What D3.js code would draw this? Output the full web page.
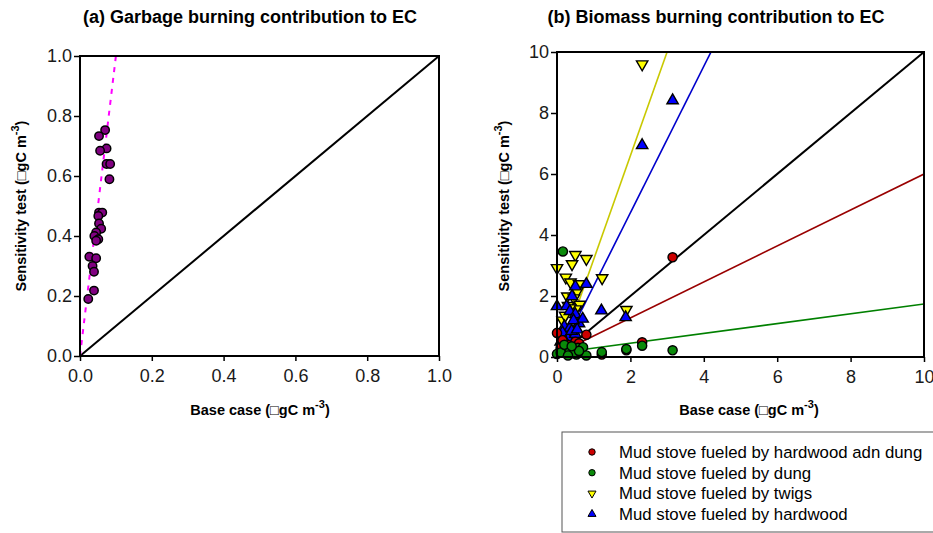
<!DOCTYPE html>
<html>
<head>
<meta charset="utf-8">
<script src="https://cdn.jsdelivr.net/npm/d3@7"></script>
<style>
  html, body { margin: 0; padding: 0; background: #fff; }
  svg { display: block; font-family: "Liberation Sans", Arial, sans-serif; }
</style>
</head>
<body>
<svg id="chart" width="933" height="533"></svg>
<script>
// ---- Panel (a): garbage burning EC, [base case, sensitivity test] ----
const garbagePoints = [
  [0.070, 0.753], [0.053, 0.733], [0.074, 0.692], [0.056, 0.684],
  [0.074, 0.640], [0.084, 0.640], [0.082, 0.589], [0.053, 0.478],
  [0.062, 0.478], [0.051, 0.467], [0.053, 0.442], [0.059, 0.424],
  [0.045, 0.412], [0.040, 0.400], [0.051, 0.389], [0.045, 0.384],
  [0.026, 0.331], [0.045, 0.326], [0.035, 0.300], [0.039, 0.281],
  [0.039, 0.218], [0.023, 0.190]
];
const garbageFit = { slope: 10.0, intercept: 0.0, x0: 0.0, x1: 0.1 };
const ticksA = [0, 0.2, 0.4, 0.6, 0.8, 1.0];

// ---- Panel (b): biomass burning EC by stove / fuel ----
const seriesNames = [
  "Mud stove fueled by hardwood adn dung",
  "Mud stove fueled by dung",
  "Mud stove fueled by twigs",
  "Mud stove fueled by hardwood"
];
const hardwoodDungPoints = [
  [0.00, 0.79], [0.80, 0.73], [3.15, 3.27], [2.32, 0.48], [1.22, 0.08],
  [1.89, 0.22], [0.50, 0.50], [0.30, 0.40], [0.15, 0.55], [0.60, 0.45],
  [0.40, 0.25], [0.10, 0.30]
];
const dungPoints = [
  [0.16, 3.46], [0.00, 0.10], [0.23, 0.27], [0.35, 0.20], [0.53, 0.08],
  [0.57, 0.30], [0.71, 0.32], [0.80, 0.05], [1.22, 0.16], [1.89, 0.26],
  [2.32, 0.37], [3.15, 0.22], [0.10, 0.15], [0.45, 0.12], [0.30, 0.05],
  [0.60, 0.20], [0.20, 0.40], [0.40, 0.35]
];
const twigsPoints = [
  [2.32, 9.60], [0.00, 2.92], [0.24, 2.61], [0.50, 3.35], [0.41, 3.05],
  [0.80, 3.22], [1.23, 2.59], [0.37, 2.45], [0.60, 2.39], [0.55, 2.15],
  [0.28, 1.99], [0.46, 1.93], [0.30, 1.68], [0.62, 1.72], [0.51, 1.57],
  [1.89, 1.55], [0.15, 1.20], [0.22, 1.36], [0.35, 1.60], [0.25, 0.60]
];
const hardwoodPoints = [
  [3.15, 8.41], [2.32, 6.94], [0.50, 2.31], [0.80, 2.39], [0.41, 1.99],
  [0.00, 1.66], [1.21, 1.52], [1.87, 1.30], [0.26, 1.66], [0.35, 1.50],
  [0.50, 1.40], [0.60, 1.10], [0.70, 1.25], [0.20, 1.00], [0.35, 0.95],
  [0.45, 1.20], [0.15, 0.80], [0.30, 0.60], [0.50, 0.75], [0.10, 0.50],
  [0.25, 0.45], [0.15, 0.30], [0.05, 0.20], [0.40, 0.85], [0.55, 0.90]
];
// linear fits: y = slope * x + intercept, drawn from x0 to x1
const biomassFits = [
  { slope: 0.59, intercept: 0.10, x0: 0.3, x1: 10 },   // hardwood and dung
  { slope: 0.161, intercept: 0.13, x0: 0.0, x1: 10 },  // dung
  { slope: 3.40, intercept: -0.20, x0: 0.1, x1: 3.0 }, // twigs
  { slope: 2.40, intercept: -0.07, x0: 0.03, x1: 4.2 } // hardwood
];
const ticksB = [0, 2, 4, 6, 8, 10];

const fillColors = ["#cc0000", "#0a8a0a", "#ffff00", "#0000ff"];
const fitColors = ["#990000", "#008000", "#c8c800", "#0000cc"];
const shapes = ["circle", "circle", "down", "up"];

const svg = d3.select("#chart");

function axisTitle(g, text, x, y, rotate) {
  const t = g.append("text")
    .attr("transform", `translate(${x},${y})` + (rotate ? " rotate(-90)" : ""))
    .attr("text-anchor", "middle")
    .attr("font-size", 14.5).attr("font-weight", "bold").attr("fill", "#000");
  t.append("tspan").text(text + " (\u25A1gC m");
  t.append("tspan").attr("dy", -7).attr("font-size", 11).text("-3");
  t.append("tspan").attr("dy", 7).text(")");
}

function frame(g, x, y, ticks, fmt) {
  const [x0, x1] = x.range();
  const [y0, y1] = y.range();
  const ax = g.append("g").attr("transform", `translate(0,${y0})`)
    .call(d3.axisBottom(x).tickValues(ticks).tickFormat(fmt).tickSize(5).tickSizeOuter(0));
  const ay = g.append("g").attr("transform", `translate(${x0},0)`)
    .call(d3.axisLeft(y).tickValues(ticks).tickFormat(fmt).tickSize(6).tickSizeOuter(0));
  [ax, ay].forEach(a => {
    a.select(".domain").remove();
    a.selectAll("line").attr("stroke", "#000").attr("stroke-width", 1.5);
    a.selectAll("text").attr("font-size", 18).attr("fill", "#1a1a1a")
      .attr("font-family", "'Liberation Sans', Arial, sans-serif");
  });
  ax.selectAll("text").attr("dy", "1.0em");
  ay.selectAll("text").attr("x", -8);
  g.append("rect").attr("x", x0).attr("y", y1).attr("width", x1 - x0).attr("height", y0 - y1)
    .attr("fill", "none").attr("stroke", "#000").attr("stroke-width", 2);
}

function markerPath(shape, size) {
  if (shape === "circle") return d3.symbol(d3.symbolCircle, size)();
  return d3.symbol(d3.symbolTriangle, size)();
}

// ================= Panel (a) =================
const xa = d3.scaleLinear().domain([0, 1]).range([80, 439]);
const ya = d3.scaleLinear().domain([0, 1]).range([356, 56]);
const ga = svg.append("g");

ga.append("text").attr("x", 250).attr("y", 23).attr("text-anchor", "middle")
  .attr("font-size", 18).attr("font-weight", "bold")
  .text("(a) Garbage burning contribution to EC");

// 1:1 line
ga.append("line").attr("x1", xa(0)).attr("y1", ya(0)).attr("x2", xa(1)).attr("y2", ya(1))
  .attr("stroke", "#000").attr("stroke-width", 2);
// fitted dashed line
ga.append("line")
  .attr("x1", xa(garbageFit.x0)).attr("y1", ya(garbageFit.slope * garbageFit.x0 + garbageFit.intercept))
  .attr("x2", xa(garbageFit.x1)).attr("y2", ya(garbageFit.slope * garbageFit.x1 + garbageFit.intercept))
  .attr("stroke", "#ff00ff").attr("stroke-width", 2).attr("stroke-dasharray", "5,6");

ga.selectAll("circle.pt").data(garbagePoints).join("circle").attr("class", "pt")
  .attr("cx", d => xa(d[0])).attr("cy", d => ya(d[1])).attr("r", 4.2)
  .attr("fill", "#800080").attr("stroke", "#000").attr("stroke-width", 1.5);

frame(ga, xa, ya, ticksA, d3.format(".1f"));
axisTitle(ga, "Base case", 260, 415, false);
axisTitle(ga, "Sensitivity test", 26, 206, true);

// ================= Panel (b) =================
const xb = d3.scaleLinear().domain([0, 10]).range([557, 924]);
const yb = d3.scaleLinear().domain([0, 10]).range([357, 52]);
const gb = svg.append("g");

gb.append("text").attr("x", 716).attr("y", 23).attr("text-anchor", "middle")
  .attr("font-size", 18).attr("font-weight", "bold")
  .text("(b) Biomass burning contribution to EC");

svg.append("defs").append("clipPath").attr("id", "clipB")
  .append("rect").attr("x", 557).attr("y", 52).attr("width", 367).attr("height", 305);

const linesB = gb.append("g").attr("clip-path", "url(#clipB)");
linesB.append("line").attr("x1", xb(0)).attr("y1", yb(0)).attr("x2", xb(10)).attr("y2", yb(10))
  .attr("stroke", "#000").attr("stroke-width", 2);
biomassFits.forEach((f, i) => {
  linesB.append("line")
    .attr("x1", xb(f.x0)).attr("y1", yb(f.slope * f.x0 + f.intercept))
    .attr("x2", xb(f.x1)).attr("y2", yb(f.slope * f.x1 + f.intercept))
    .attr("stroke", fitColors[i]).attr("stroke-width", 1.6);
});

const seriesData = [hardwoodDungPoints, dungPoints, twigsPoints, hardwoodPoints];
const drawOrder = [2, 3, 0, 1];
drawOrder.forEach(i => {
  const g = gb.append("g");
  const shape = shapes[i];
  g.selectAll("path").data(seriesData[i]).join("path")
    .attr("d", markerPath(shape, shape === "circle" ? 66 : 56))
    .attr("transform", d => `translate(${xb(d[0])},${yb(d[1])})` + (shape === "down" ? " rotate(180)" : ""))
    .attr("fill", fillColors[i]).attr("stroke", "#000").attr("stroke-width", 1.4);
});

frame(gb, xb, yb, ticksB, d3.format("d"));
axisTitle(gb, "Base case", 749, 415, false);
axisTitle(gb, "Sensitivity test", 509, 206, true);

// ---- legend ----
const lg = svg.append("g");
lg.append("rect").attr("x", 562).attr("y", 432).attr("width", 400).attr("height", 100)
  .attr("fill", "#fff").attr("stroke", "#555").attr("stroke-width", 1);
seriesNames.forEach((name, i) => {
  const y = 452 + i * 20.7;
  const shape = shapes[i];
  lg.append("path")
    .attr("d", markerPath(shape, shape === "circle" ? 32 : 28))
    .attr("transform", `translate(592,${y})` + (shape === "down" ? " rotate(180)" : ""))
    .attr("fill", fillColors[i]).attr("stroke", "#000").attr("stroke-width", 1);
  lg.append("text").attr("x", 619).attr("y", y).attr("dy", "0.36em")
    .attr("font-size", 16.8).attr("fill", "#000").text(name);
});
</script>
</body>
</html>
